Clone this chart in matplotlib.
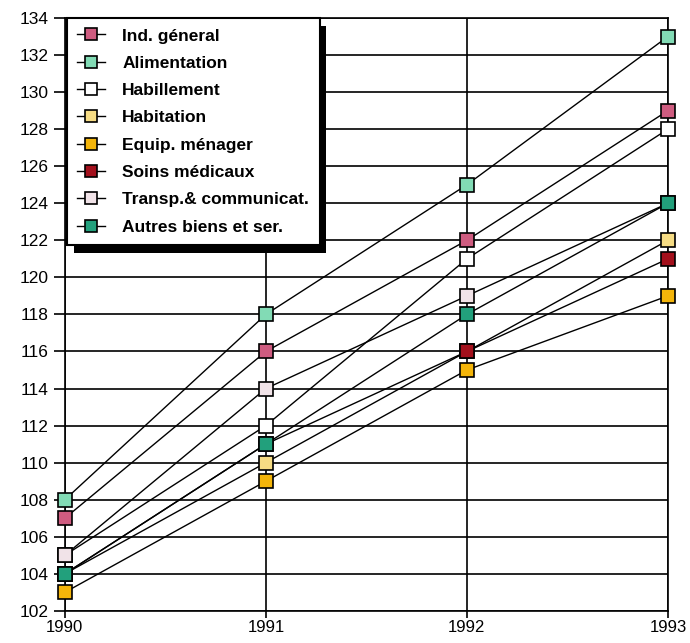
import matplotlib.pyplot as plt
import matplotlib.patheffects as pe

years = [1990, 1991, 1992, 1993]
ind_general = [107, 116, 122, 129]
alimentation = [108, 118, 125, 133]
habillement = [105, 112, 121, 128]
habitation = [104, 110, 116, 122]
equip_menager = [103, 109, 115, 119]
soins_medicaux = [104, 111, 116, 121]
transp_comm = [105, 114, 119, 124]
autres_biens = [104, 111, 118, 124]

series = [
    ("Ind. géneral", ind_general, "#cf5c80"),
    ("Alimentation", alimentation, "#82dbb5"),
    ("Habillement", habillement, "#ffffff"),
    ("Habitation", habitation, "#f6dc84"),
    ("Equip. ménager", equip_menager, "#f4b50a"),
    ("Soins médicaux", soins_medicaux, "#a3101c"),
    ("Transp.& communicat.", transp_comm, "#f1e3e8"),
    ("Autres biens et ser.", autres_biens, "#22a07c"),
]

plt.rcParams['font.family'] = ['Liberation Sans', 'DejaVu Sans']

fig = plt.figure(figsize=(6.9, 6.43), dpi=100)
ax = fig.add_axes([0.094, 0.05, 0.874, 0.922])

for label, vals, color in series:
    ax.plot(years, vals, color='black', lw=1.0, marker='s', markersize=10,
            markerfacecolor=color, markeredgecolor='black', markeredgewidth=1.2,
            label=label, zorder=3, clip_on=False)

ax.set_xlim(1990, 1993)
ax.set_ylim(102, 134)
ax.set_xticks(years)
ax.set_yticks(range(102, 135, 2))
ax.grid(True, color='black', lw=1.2)
ax.set_axisbelow(True)
for s in ax.spines.values():
    s.set_linewidth(1.2)
ax.tick_params(axis='y', length=8, width=1.2, labelsize=12.5, pad=4)
ax.tick_params(axis='x', length=5, width=1.2, labelsize=12, pad=1.5)

leg = ax.legend(loc='upper left', bbox_to_anchor=(0.003, 1.0), borderaxespad=0,
                fancybox=False, edgecolor='black', framealpha=1,
                handlelength=1.6, handletextpad=1.0, labelspacing=0.7,
                borderpad=0.6, prop={'size': 12.5, 'weight': 'bold'})
leg.get_frame().set_linewidth(1.5)
leg.get_frame().set_path_effects([
    pe.SimplePatchShadow(offset=(5, -6), shadow_rgbFace='black', alpha=1),
    pe.Normal()])
leg.set_zorder(5)
for h in leg.legend_handles:
    h.set_markersize(8)

fig.savefig("out.png", dpi=100)
